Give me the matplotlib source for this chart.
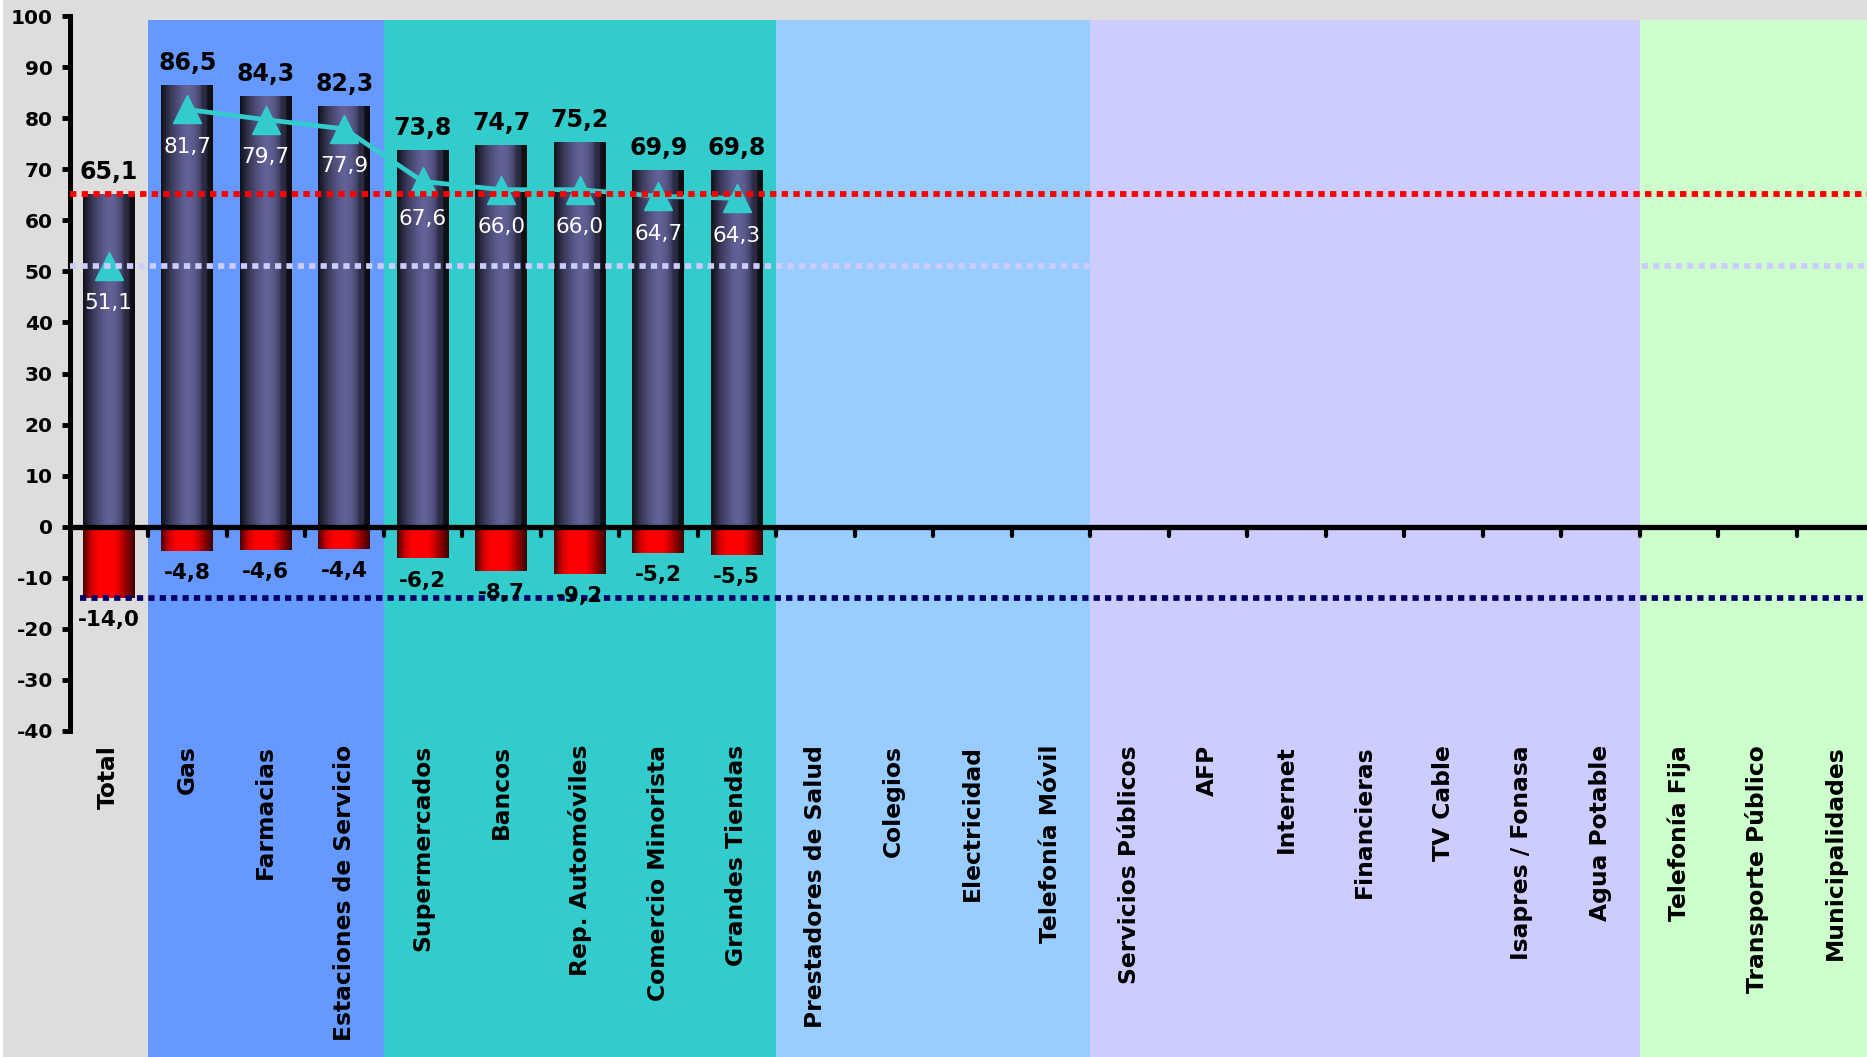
import numpy as np
import matplotlib
matplotlib.use("Agg")
import matplotlib.pyplot as plt
import matplotlib.transforms as mtransforms
from matplotlib.colors import LinearSegmentedColormap
from matplotlib.patches import Rectangle

##
categories = ["Total", "Gas", "Farmacias", "Estaciones de Servicio", "Supermercados",
              "Bancos", "Rep. Automóviles", "Comercio Minorista", "Grandes Tiendas",
              "Prestadores de Salud", "Colegios", "Electricidad", "Telefonía Móvil",
              "Servicios Públicos", "AFP", "Internet", "Financieras", "TV Cable",
              "Isapres / Fonasa", "Agua Potable", "Telefonía Fija", "Transporte Público",
              "Municipalidades"]
satisf = [65.1, 86.5, 84.3, 82.3, 73.8, 74.7, 75.2, 69.9, 69.8]
insatisf = [-14.0, -4.8, -4.6, -4.4, -6.2, -8.7, -9.2, -5.2, -5.5]
neto = [51.1, 81.7, 79.7, 77.9, 67.6, 66.0, 66.0, 64.7, 64.3]
ref_sat = 65.1
ref_neto = 51.1
ref_insat = -14.0

band_first = [1, 4, 9, 13, 20]
band_last = [3, 8, 12, 19, 22]
band_colors = ["#6699ff", "#33cccc", "#99ccff", "#ccccff", "#ccffcc"]

def fmt(v):
    return ("%.1f" % v).replace(".", ",")

plt.rcParams['font.family'] = ['DejaVu Sans']

fig = plt.figure(figsize=(18.67, 10.57), dpi=100)
fig.patch.set_facecolor("#dddddd")
fig.patches.append(Rectangle((0, 0), 0.0018, 1, transform=fig.transFigure,
                             facecolor="white", edgecolor="none"))
ax = fig.add_axes([69.5 / 1867, 326 / 1057, 1 - 69.5 / 1867, 715 / 1057])
ax.patch.set_visible(False)

n = len(categories)
xmin, xmax = -0.5, (1867 - 69.5) / 78.5 - 0.5
ymin, ymax = -40, 100

# colored bands (stretch down to the bottom of the figure)
trans = mtransforms.blended_transform_factory(ax.transData, fig.transFigure)
for a, b, c in zip(band_first, band_last, band_colors):
    ax.add_patch(Rectangle((a - 0.5, 0), b - a + 1, 0.981, transform=trans,
                           facecolor=c, edgecolor="none", zorder=0, clip_on=False))

# cylinder like bars
cm_pos = LinearSegmentedColormap.from_list("pos", [
    (0.0, "#101018"), (0.06, "#1e1e2e"), (0.2, "#3c3c5e"), (0.4, "#5a5a8c"),
    (0.52, "#63639b"), (0.66, "#585888"), (0.76, "#42426a"), (0.8, "#2c2c46"),
    (0.88, "#2a2a42"), (0.9, "#121219"), (1.0, "#0c0c12")])
cm_neg = LinearSegmentedColormap.from_list("neg", [
    (0.0, "#4a0000"), (0.06, "#7a0000"), (0.15, "#cc0000"), (0.3, "#ff0000"),
    (0.6, "#ff0000"), (0.72, "#d00000"), (0.82, "#990000"), (0.92, "#660000"),
    (1.0, "#3a0000")])
grad = np.linspace(0, 1, 128)[np.newaxis, :]
w = 0.66
for i in range(len(satisf)):
    ax.imshow(grad, cmap=cm_pos, aspect="auto", interpolation="bilinear",
              extent=(i - w / 2, i + w / 2, 0, satisf[i]), zorder=2)
    ax.imshow(grad, cmap=cm_neg, aspect="auto", interpolation="bilinear",
              extent=(i - w / 2, i + w / 2, insatisf[i], 0), zorder=2)
    ax.annotate(fmt(satisf[i]), (i, satisf[i]), xytext=(0, 16), textcoords="offset points",
                ha="center", va="center", fontsize=17, fontweight="bold", zorder=7)
    ax.annotate(fmt(insatisf[i]), (i, insatisf[i]), xytext=(0, -16), textcoords="offset points",
                ha="center", va="center", fontsize=15.5, fontweight="bold", zorder=7)

# net satisfaction line
xs = np.arange(len(neto))
ax.plot(xs[1:], neto[1:], color="#33cccc", lw=3.4, marker="^", ms=20, zorder=3)
ax.plot(xs[:1], neto[:1], color="#33cccc", lw=0, marker="^", ms=20, zorder=3)
for i in range(len(neto)):
    ax.annotate(fmt(neto[i]), (i, neto[i]), xytext=(0, -27), textcoords="offset points",
                ha="center", va="center", fontsize=15.5, color="white", zorder=7)

# reference lines
ax.axhline(ref_sat, color="#ff0000", lw=4.2, ls=(0, (1.1, 0.9)), zorder=5)
ax.axhline(ref_neto, color="#ccccff", lw=4.1, ls=(0, (1.1, 0.9)), zorder=5)
ax.axhline(ref_insat, xmin=0.006, color="#000066", lw=4.1, ls=(0, (1.1, 0.9)), zorder=5)

# zero line with separators
ax.axhline(0, color="black", lw=3.8, zorder=4)
sep = ax.vlines(np.arange(n - 1) + 0.5, -1.8, 0, colors="black", lw=3, zorder=4)
sep.set_capstyle("round")

ax.set_xlim(xmin, xmax)
ax.set_ylim(ymin, ymax)
ax.set_xticks(range(n))
ax.set_xticklabels(categories, rotation=90, fontsize=16.8, fontweight="bold",
                   va="top", ha="center")
ax.tick_params(axis="x", length=0, pad=10)
ax.set_yticks(range(-40, 101, 10))
ax.set_yticklabels([str(t) for t in range(-40, 101, 10)], fontweight="bold")
ax.tick_params(axis="y", length=6, width=3.5, labelsize=14.5, pad=6)
for s in ["top", "right", "bottom"]:
    ax.spines[s].set_visible(False)
ax.spines["left"].set_linewidth(3.6)
ax.spines["left"].set_bounds(-40, 100)

fig.savefig("out.png", dpi=100, facecolor=fig.get_facecolor())
